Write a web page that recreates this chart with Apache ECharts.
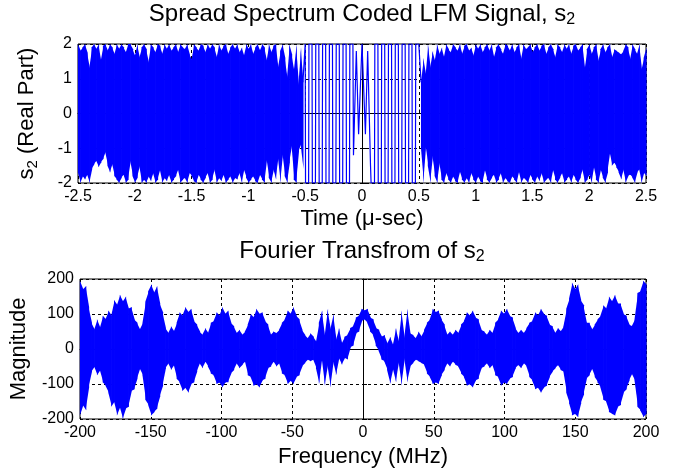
<!DOCTYPE html>
<html>
<head>
<meta charset="utf-8">
<script src="https://cdn.jsdelivr.net/npm/echarts@6/dist/echarts.min.js"></script>
<style>
  html, body { margin: 0; padding: 0; background: #fff; }
  #main { width: 683px; height: 476px; }
</style>
</head>
<body>
<div id="main"></div>
<script>
// time axis ticks (micro-sec) and frequency ticks (MHz)
const timeTicks = [-2.5, -2, -1.5, -1, -0.5, 0, 0.5, 1, 1.5, 2, 2.5];
const freqTicks = [-200, -150, -100, -50, 0, 50, 100, 150, 200];

// s2 real part, dense part left of the pulse centre: max/min of the trace every 0.02 us, -2.5 .. -0.52
const leftStart = -2.5;
const leftHi = [
  2, 1.8, 1.9, 2, 1.75, 1.3, 1.9, 2, 1.85, 2,
  1.5, 1.95, 2, 1.8, 2, 1.9, 1.7, 2, 1.85, 2,
  1.9, 1.75, 2, 2, 1.85, 1.65, 2, 1.6, 1.9, 2,
  1.85, 1.45, 2, 1.9, 1.75, 2, 1.95, 1.7, 2, 1.85,
  2, 1.8, 1.9, 2, 1.75, 2, 1.9, 1.85, 2, 1.7,
  1.55, 2, 1.9, 1.8, 2, 1.95, 1.75, 2, 1.85, 2,
  1.9, 1.6, 2, 1.8, 1.95, 2, 1.7, 1.9, 2, 1.85,
  2, 1.75, 1.9, 1.65, 2, 1.85, 2, 1.7, 1.9, 2,
  1.8, 2, 1.9, 1.5, 2, 1.75, 1.95, 2, 1.3, 1.8,
  2, 1.6, 1.0, 2, 1.7, 1.2, 2, 0.8, 1.9, 0.9
];
const leftLo = [
  -1.7, -2, -1.8, -1.9, -1.75, -2, -1.6, -1.45, -1.35, -1.55,
  -1.4, -1.3, -1.1, -1.5, -1.7, -1.44, -1.8, -1.9, -2, -1.85,
  -1.75, -2, -1.9, -1.35, -1.8, -2, -1.85, -1.5, -2, -1.9,
  -2, -1.8, -1.95, -1.7, -2, -1.9, -1.6, -2, -1.85, -1.95,
  -1.75, -2, -1.9, -1.8, -1.6, -2, -1.9, -1.85, -2, -1.7,
  -1.8, -1.95, -2, -1.75, -1.9, -2, -1.85, -1.7, -2, -1.9,
  -1.6, -2, -1.85, -1.95, -1.75, -2, -1.9, -1.8, -2, -1.85,
  -1.9, -1.7, -2, -1.6, -1.85, -2, -1.9, -1.8, -1.95, -2,
  -1.75, -1.9, -2, -1.3, -1.85, -2, -1.6, -1.9, -1.25, -2,
  -1.15, -1.8, -2, -1.4, -0.9, -1.9, -2, -1.1, -0.87, -1.6
];

// slow chirp around t = 0 (samples read one by one)
const chirpT = [
  -0.52, -0.5, -0.497, -0.47, -0.467, -0.44, -0.437, -0.41, -0.407, -0.38, -0.377,
  -0.35, -0.347, -0.32, -0.317, -0.29, -0.287, -0.26, -0.257, -0.23, -0.227,
  -0.2, -0.197, -0.17, -0.167, -0.14, -0.137, -0.11, -0.107, -0.08, -0.075,
  -0.05, -0.03, 0, 0.03, 0.05, 0.075, 0.08, 0.11, 0.113, 0.14,
  0.143, 0.17, 0.173, 0.2, 0.203, 0.23, 0.233, 0.26, 0.263, 0.29,
  0.293, 0.32, 0.323, 0.35, 0.353, 0.38, 0.383, 0.41, 0.413, 0.44,
  0.443, 0.47, 0.473, 0.5, 0.52
];
const chirpV = [
  0.9, 2, -2, -2, 2, 2, -2, -2, 2, 2, -2,
  -2, 2, 2, -2, -2, 2, 2, -2, -2, 2,
  2, -2, -2, 2, 2, -2, -2, 2, 2, -1.2,
  1.8, -0.6, 2, -0.6, 1.8, -1.5, -2, -2, 2, 2,
  -2, -2, 2, 2, -2, -2, 2, 2, -2, -2,
  2, 2, -2, -2, 2, 2, -2, -2, 2, 2,
  -2, -2, 2, 2, 0.9
];

// dense part right of the centre, every 0.02 us, 0.52 .. 2.5
const rightStart = 0.52;
const rightHi = [
  0.9, 1.6, 1.1, 2, 1.3, 1.8, 1.5, 2, 1.7, 1.9,
  1.6, 2, 1.85, 1.75, 2, 1.9, 1.8, 2, 1.7, 1.95,
  2, 1.8, 1.9, 1.65, 2, 1.85, 2, 1.75, 1.9, 2,
  1.8, 2, 1.6, 1.9, 2, 1.85, 1.7, 2, 1.95, 1.8,
  2, 1.75, 1.9, 2, 1.55, 2, 1.85, 1.9, 2, 1.75,
  1.9, 2, 1.8, 1.95, 2, 1.7, 1.9, 2, 1.85, 1.6,
  2, 1.9, 1.75, 2, 1.85, 2, 1.7, 1.95, 2, 1.8,
  1.9, 2, 1.25, 1.85, 2, 1.7, 1.9, 2, 1.5, 1.85,
  2, 1.75, 1.9, 2, 1.6, 1.85, 1.8, 1.75, 1.7, 1.8,
  2, 1.9, 1.55, 2, 1.85, 1.7, 2, 1.25, 1.6, 1.9
];
const rightLo = [
  -1.0, -2, -0.9, -1.5, -2, -1.2, -1.8, -2, -1.4, -1.9,
  -2, -1.7, -1.9, -2, -1.8, -1.95, -2, -1.65, -1.9, -2,
  -1.85, -2, -1.7, -1.9, -2, -1.8, -1.95, -2, -1.6, -1.9,
  -2, -1.85, -1.75, -2, -1.9, -1.7, -2, -1.85, -1.95, -2,
  -1.8, -1.9, -2, -1.65, -2, -1.85, -1.9, -2, -1.75, -1.9,
  -2, -1.8, -1.95, -1.7, -2, -1.9, -1.85, -2, -1.6, -1.9,
  -2, -1.85, -1.7, -2, -1.9, -1.8, -2, -1.75, -1.9, -2,
  -1.85, -1.6, -2, -1.9, -1.75, -2, -1.5, -1.9, -2, -1.6,
  -1.85, -2, -1.7, -1.1, -1.5, -1.4, -1.55, -1.7, -1.9, -1.6,
  -2, -1.8, -1.75, -1.85, -2, -1.7, -1.6, -2, -1.7, -1.8
];

// spectrum: max/min of the trace at 200 evenly spaced frequencies, -200 .. 200 MHz
const specStart = -200;
const specEnd = 200;
const specHi = [
  195, 170, 180,
  120, 75, 55, 85, 60, 95,
  85, 110, 95, 140, 125, 155, 135, 150, 115, 120, 85, 75,
  55, 75,
  135, 165, 185, 160, 180, 130, 105,
  60, 45, 65, 50,
  75, 105, 95, 120, 105, 115, 80, 70,
  50, 40, 60, 45,
  75, 80, 105, 95, 120, 100, 110, 75, 65,
  45, 55, 40, 50,
  70, 100, 90, 115, 100, 105, 80, 70,
  40, 50, 45, 55,
  75, 85, 110, 100, 120, 95, 85, 55,
  40, 30, 45, 35,
  20, 75, 110, 35, 115, 55, 100, 25, 60,
  15, 35, 40, 60, 65, 90, 95, 115,
  110,
  115, 90, 85, 60, 55, 35, 40, 15,
  35, 10, 60, 20, 110, 30, 115, 45,
  40, 30, 50, 35, 55,
  75, 85, 115, 105, 110, 85, 70,
  40, 50, 40, 55, 45,
  70, 80, 105, 95, 110, 90, 85, 55,
  50, 40, 55, 45,
  75, 85, 110, 100, 115, 95, 90, 60,
  45, 55, 45, 60,
  75, 80, 105, 95, 115, 100, 95, 70, 65,
  45, 60, 50, 65,
  115, 145, 190, 170, 185, 140, 125, 75,
  75, 55, 70,
  85, 95, 125, 115, 150, 135, 155, 130, 130, 100, 95, 70,
  65, 85,
  160, 165, 195, 185
];
const specLo = [
  -190, -160, -175,
  -110, -65, -50, -75, -60, -95,
  -105, -125, -165, -150, -190, -165, -200, -170, -165, -120, -115, -85,
  -55, -75,
  -145, -160, -190, -180, -170, -135, -105,
  -55, -40, -60, -45,
  -85, -95, -120, -110, -125, -100, -95, -65,
  -40, -55, -35, -50,
  -70, -75, -100, -95, -110, -95, -95, -70, -60,
  -40, -55, -45, -35,
  -75, -80, -105, -100, -110, -90, -85, -55,
  -50, -35, -50, -40,
  -70, -75, -100, -90, -100, -80, -75, -50,
  -40, -30, -35, -30,
  -55, -100, -25, -105, -45, -110, -35, -75, -25,
  -45, -25, -30, 5, 10, 45, 50, 80,
  85,
  75, 50, 40, 10, -5, -30, -35, -60,
  -100, -55, -95, -35, -105, -25, -95, -50,
  -40, -30, -35, -40, -45,
  -70, -80, -100, -95, -100, -75, -60,
  -40, -50, -35, -45, -50,
  -70, -80, -105, -100, -110, -90, -85, -55,
  -50, -40, -55, -45,
  -75, -80, -105, -95, -100, -85, -80, -55,
  -45, -55, -40, -50,
  -80, -90, -115, -110, -125, -110, -105, -80, -65,
  -55, -45, -60, -65,
  -125, -155, -190, -185, -195, -155, -130, -85,
  -75, -55, -80,
  -95, -110, -145, -150, -180, -185, -190, -165, -160, -125, -115, -90,
  -70, -90,
  -165, -175, -195, -185
];

const FONT = 'Liberation Sans';
const BLUE = '#0000ff';

// one [x, lo, hi] item per sample; each item fills the strip up to the next sample
function band(xAxisIndex, start, step, hi, lo) {
  const data = hi.map((h, i) => [+(start + i * step).toFixed(4), lo[i], h]);
  return {
    type: 'custom', xAxisIndex, yAxisIndex: xAxisIndex, encode: { x: 0, y: [1, 2] },
    data, silent: true,
    renderItem(params, api) {
      const i = params.dataIndex;
      if (i >= data.length - 1) return null;
      const next = data[i + 1];
      const p1 = api.coord([api.value(0), api.value(2)]);
      const p2 = api.coord([next[0], next[2]]);
      const p3 = api.coord([next[0], next[1]]);
      const p4 = api.coord([api.value(0), api.value(1)]);
      p2[0] += 0.6; p3[0] += 0.6; p1[0] -= 0.1; p4[0] -= 0.1;
      return { type: 'polygon', shape: { points: [p1, p2, p3, p4] }, style: { fill: BLUE } };
    }
  };
}

const tickLabel = { color: '#000', fontFamily: FONT, fontSize: 16, margin: 6 };
const dashed = { show: true, lineStyle: { color: '#000', type: [3, 3], width: 1 } };
const axisLine = { show: true, lineStyle: { color: '#000', width: 1 } };
const axisTick = { show: true, inside: true, length: 4, lineStyle: { color: '#000' } };
const subRich = {
  n: { fontFamily: FONT, fontSize: 22, color: '#000', lineHeight: 26 },
  s: { fontFamily: FONT, fontSize: 15, color: '#000', lineHeight: 12, verticalAlign: 'bottom' }
};
const nameStyle = { color: '#000', fontFamily: FONT, fontSize: 22, rich: subRich };
const titleRich = {
  n: { fontFamily: FONT, fontSize: 24, color: '#000', lineHeight: 28 },
  s: { fontFamily: FONT, fontSize: 16, color: '#000', lineHeight: 12, verticalAlign: 'bottom' }
};

const chart = echarts.init(document.getElementById('main'));
chart.setOption({
  animation: false,
  backgroundColor: '#fff',
  grid: [
    { left: 78, top: 44, width: 568, height: 139, show: true, borderColor: '#000', borderWidth: 1 },
    { left: 78, top: 279, width: 568, height: 140, show: true, borderColor: '#000', borderWidth: 1 }
  ],
  graphic: [
    {
      type: 'text', x: 362, y: 14,
      style: {
        text: '{n|Spread Spectrum Coded LFM Signal, s}{s|2}',
        align: 'center', textAlign: 'center', verticalAlign: 'middle', textVerticalAlign: 'middle',
        rich: titleRich
      }
    },
    {
      type: 'text', x: 362, y: 251,
      style: {
        text: '{n|Fourier Transfrom of s}{s|2}',
        align: 'center', textAlign: 'center', verticalAlign: 'middle', textVerticalAlign: 'middle',
        rich: titleRich
      }
    }
  ],
  xAxis: [
    {
      gridIndex: 0, type: 'value', min: timeTicks[0], max: timeTicks[timeTicks.length - 1], interval: 0.5,
      axisLine, axisTick, splitLine: dashed, axisLabel: tickLabel,
      name: '{n|Time (\u03bc-sec)}', nameLocation: 'middle', nameGap: 23, nameTextStyle: nameStyle
    },
    {
      gridIndex: 1, type: 'value', min: freqTicks[0], max: freqTicks[freqTicks.length - 1], interval: 50,
      axisLine, axisTick, splitLine: dashed, axisLabel: tickLabel,
      name: '{n|Frequency (MHz)}', nameLocation: 'middle', nameGap: 25, nameTextStyle: nameStyle
    }
  ],
  yAxis: [
    {
      gridIndex: 0, type: 'value', min: -2, max: 2, interval: 1,
      axisLine, axisTick, splitLine: dashed, axisLabel: tickLabel,
      name: '{n|s}{s|2}{n| (Real Part)}', nameLocation: 'middle', nameGap: 38, nameTextStyle: nameStyle
    },
    {
      gridIndex: 1, type: 'value', min: -200, max: 200, interval: 100,
      axisLine, axisTick, splitLine: dashed, axisLabel: tickLabel,
      name: '{n|Magnitude}', nameLocation: 'middle', nameGap: 48, nameTextStyle: nameStyle
    }
  ],
  series: [
    band(0, leftStart, 0.02, leftHi, leftLo),
    {
      type: 'line', xAxisIndex: 0, yAxisIndex: 0, data: chirpT.map((t, i) => [t, chirpV[i]]),
      showSymbol: false, lineStyle: { color: BLUE, width: 1.2 }, silent: true
    },
    band(0, rightStart, 0.02, rightHi, rightLo),
    band(1, specStart, (specEnd - specStart) / (specHi.length - 1), specHi, specLo)
  ]
});
</script>
</body>
</html>
